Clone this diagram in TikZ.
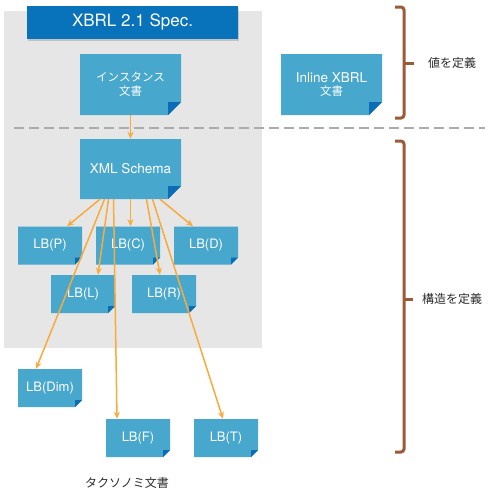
\documentclass[tikz,border=0pt]{standalone}
\usepackage{fontspec}
\setmainfont{TeX Gyre Heros}
\newfontfamily\jp{Noto Sans CJK JP}
\usetikzlibrary{arrows.meta,shadows}
\definecolor{bggray}{HTML}{E6E6E6}
\definecolor{boxblue}{HTML}{47A7CC}
\definecolor{foldblue}{HTML}{0A6DB6}
\definecolor{titleblue}{HTML}{0872BA}
\definecolor{arrorange}{HTML}{F9AA3C}
\definecolor{brownbr}{HTML}{9C5A36}
\definecolor{dashgray}{HTML}{ABABAB}
\definecolor{labelgray}{HTML}{2B2B2B}
\newcommand\mydocshape[1]{%
  \fill[boxblue] (path picture bounding box.north west) -- (path picture bounding box.north east)
    -- ([yshift=#1]path picture bounding box.south east) -- ([xshift=-#1]path picture bounding box.south east)
    -- (path picture bounding box.south west) -- cycle;
  \fill[foldblue] ([xshift=-#1,yshift=#1]path picture bounding box.south east)
    -- ([yshift=#1]path picture bounding box.south east)
    -- ([xshift=-#1]path picture bounding box.south east) -- cycle;}
\tikzset{
  softshadow/.style={drop shadow={shadow xshift=1pt, shadow yshift=-1.5pt, opacity=0.15, fill=black}},
  bigdoc/.style={inner sep=0pt, minimum width=101pt, minimum height=61pt, align=center, text=white,
    font=\fontsize{13.5}{15}\selectfont, path picture={\mydocshape{13pt}}},
  smalldoc/.style={inner sep=0pt, minimum width=64pt, minimum height=38pt, align=center, text=white,
    font=\fontsize{13}{15}\selectfont, path picture={\mydocshape{7pt}}},
  titlebar/.style={fill=titleblue, inner sep=0pt, minimum width=211pt, minimum height=33pt, text=white,
    font=\fontsize{17}{19}\selectfont, softshadow},
  arr/.style={draw=arrorange, line width=1.5pt, -{Stealth[length=7pt,width=6pt]}},
  bracketline/.style={draw=brownbr, line width=3pt, rounded corners=3pt},
  sidelabel/.style={text=labelgray, font=\jp\fontsize{12}{14}\selectfont},
}
\begin{document}
\begin{tikzpicture}[x=1pt,y=-1pt]
\useasboundingbox (0,0) rectangle (500,493);
\fill[bggray] (4,11) rectangle (262,348);
\node[titlebar] (title) at (132.5,22.5) {XBRL 2.1 Spec.};
\node[bigdoc] (inst) at (130.5,84.5) {{\jp\fontsize{11.5}{14}\selectfont インスタンス}\\[-1pt]{\jp\fontsize{11.5}{14}\selectfont 文書}};
\node[bigdoc] (inline) at (331.5,84.5) {Inline XBRL\\[-2pt]{\jp\fontsize{11.5}{14}\selectfont 文書}};
\node[bigdoc, minimum height=60pt] (xml) at (130.5,169) {XML Schema};
\coordinate (dl) at (14,128);
\coordinate (dr) at (485,128);
\draw[dashgray, line width=1.8pt, dash pattern=on 10pt off 5pt] (dl) -- (dr);
\node[smalldoc] (P) at (50,245.5) {LB(P)};
\node[smalldoc] (C) at (128,245.5) {LB(C)};
\node[smalldoc] (D) at (206,245.5) {LB(D)};
\node[smalldoc] (L) at (83,294) {LB(L)};
\node[smalldoc] (R) at (164,294) {LB(R)};
\node[smalldoc] (Dim) at (50,388) {LB(Dim)};
\node[smalldoc] (F) at (138,438) {LB(F)};
\node[smalldoc] (T) at (226,438) {LB(T)};
\draw[arr] (inst.south) -- (xml.north);
\draw[arr] ([xshift=-30.5pt]xml.south) -- ([xshift=17pt]P.north);
\draw[arr] ([xshift=0pt]xml.south) -- ([xshift=2.5pt]C.north);
\draw[arr] ([xshift=29.5pt]xml.south) -- ([xshift=-13pt]D.north);
\draw[arr] ([xshift=-22pt]xml.south) -- ([xshift=15pt]L.north);
\draw[arr] ([xshift=16pt]xml.south) -- ([xshift=-4pt]R.north);
\draw[arr] ([xshift=-26pt]xml.south) -- ([xshift=-14pt]Dim.north);
\draw[arr] ([xshift=-17pt]xml.south) -- ([xshift=-21pt]F.north);
\draw[arr] ([xshift=22pt]xml.south) -- ([xshift=-3pt]T.north);
\draw[bracketline] (395,7) -- (404,7) -- (404,118) -- (395,118);
\draw[bracketline] (404,63) -- (414,63);
\draw[bracketline] (395,141) -- (404,141) -- (404,452) -- (395,452);
\draw[bracketline] (404,299) -- (413,299);
\node[sidelabel] (vlabel) at (452,63) {値を定義};
\node[sidelabel] (slabel) at (452,299) {構造を定義};
\node[sidelabel] (tlabel) at (127,483) {タクソノミ文書};
\end{tikzpicture}
\end{document}
